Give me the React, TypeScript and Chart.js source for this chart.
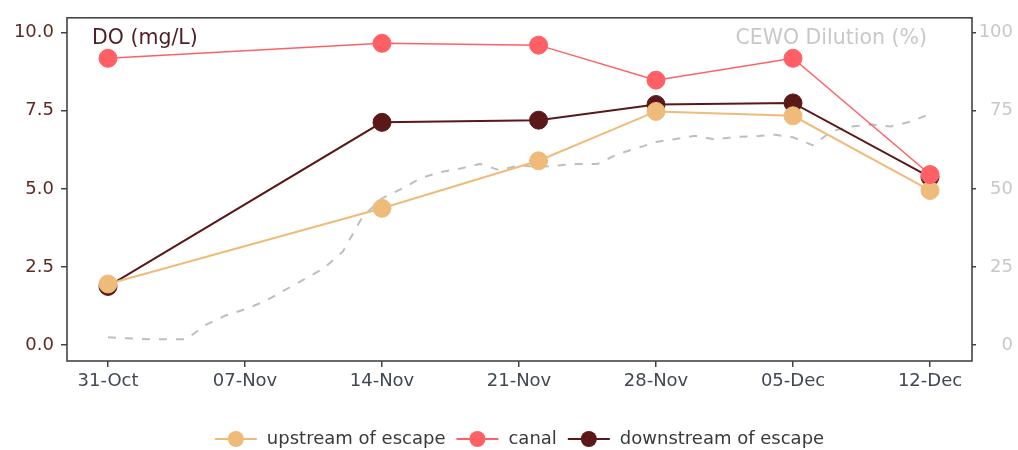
import React, { useEffect, useRef } from "react";
import { Chart, registerables } from "chart.js";

Chart.register(...registerables);

// x axis: days since 31-Oct
const dayTicks = [0, 7, 14, 21, 28, 35, 42];
const dayLabels = ["31-Oct", "07-Nov", "14-Nov", "21-Nov", "28-Nov", "05-Dec", "12-Dec"];

const sampleDays = [0, 14, 22, 28, 35, 42];
const upstream = [1.96, 4.38, 5.9, 7.48, 7.34, 4.95];
const canal = [9.18, 9.66, 9.6, 8.48, 9.18, 5.46];
const downstream = [1.88, 7.13, 7.2, 7.7, 7.75, 5.38];

const dilutionDays = [
  0, 1, 2, 3, 4, 5, 6, 7, 8, 9, 10, 11, 12, 13, 14, 15, 16, 17, 18, 19, 20, 21,
  22, 23, 24, 25, 26, 27, 28, 29, 30, 31, 32, 33, 34, 35, 36, 37, 38, 39, 40, 41, 42,
];
const dilution = [
  2.5, 2.2, 1.9, 1.9, 1.9, 6.5, 9.5, 11.5, 14, 17.5, 21, 24.5, 30, 41, 47, 50,
  53.5, 55.4, 56.5, 58, 56, 57.5, 57, 57.5, 58, 58, 61, 63, 65, 66, 67, 65.8,
  66.6, 66.8, 67.4, 66.5, 64, 68.5, 70, 70.6, 70, 71.5, 74,
];

const doTicks = [0, 2.5, 5, 7.5, 10];
const dilutionTicks = [0, 25, 50, 75, 100];

const seriesNames = ["upstream of escape", "canal", "downstream of escape"];
const seriesColors = ["#EFBB7A", "#FF6066", "#5A1918"];
const dilutionColor = "#BEBEBE";

const FONT = '"DejaVu Sans", sans-serif';

const framePlugin = {
  id: "frame",
  beforeDatasetsDraw(chart: any) {
    const { ctx, chartArea: a } = chart;
    ctx.save();
    ctx.strokeStyle = "#444";
    ctx.lineWidth = 1.6;
    ctx.strokeRect(a.left, a.top, a.right - a.left, a.bottom - a.top);
    ctx.restore();
  },
};

const textPlugin = {
  id: "annot",
  afterDraw(chart: any) {
    const { ctx, chartArea: a } = chart;
    ctx.save();
    ctx.font = `20.5px ${FONT}`;
    ctx.textBaseline = "alphabetic";
    ctx.fillStyle = "#4e1f26";
    ctx.textAlign = "left";
    ctx.fillText("DO (mg/L)", a.left + 25, a.top + 26);
    ctx.fillStyle = "#C8C8C8";
    ctx.textAlign = "right";
    ctx.fillText("CEWO Dilution (%)", a.right - 45, a.top + 26);
    ctx.restore();
  },
};

const legendPlugin = {
  id: "customLegend",
  afterDraw(chart: any) {
    const { ctx, chartArea: a } = chart;
    ctx.save();
    ctx.font = `18px ${FONT}`;
    const markerW = 42;
    const gapText = 10;
    const gapItem = 11;
    const widths = seriesNames.map((n) => ctx.measureText(n).width);
    const total =
      widths.reduce((s, w) => s + markerW + gapText + w, 0) + gapItem * (seriesNames.length - 1);
    let x = (a.left + a.right) / 2 - total / 2;
    const y = 439;
    seriesNames.forEach((name, i) => {
      ctx.strokeStyle = seriesColors[i];
      ctx.lineWidth = 2;
      ctx.beginPath();
      ctx.moveTo(x, y);
      ctx.lineTo(x + markerW, y);
      ctx.stroke();
      ctx.fillStyle = seriesColors[i];
      ctx.beginPath();
      ctx.arc(x + markerW / 2, y, 8, 0, Math.PI * 2);
      ctx.fill();
      x += markerW + gapText;
      ctx.fillStyle = "#3a3a3a";
      ctx.textAlign = "left";
      ctx.textBaseline = "middle";
      ctx.fillText(name, x, y);
      x += widths[i] + gapItem;
    });
    ctx.restore();
  },
};

export default function App() {
  const ref = useRef<HTMLCanvasElement | null>(null);

  useEffect(() => {
    if (!ref.current) return;
    const mk = (vals: number[]) => sampleDays.map((d, i) => ({ x: d, y: vals[i] }));
    const chart = new Chart(ref.current, {
      type: "line",
      data: {
        datasets: [
          {
            label: seriesNames[0],
            data: mk(upstream),
            borderColor: seriesColors[0],
            backgroundColor: seriesColors[0],
            borderWidth: 2,
            pointRadius: 9,
            pointBorderWidth: 1,
            pointBorderColor: seriesColors[0],
            yAxisID: "y",
            order: 2,
          },
          {
            label: seriesNames[1],
            data: mk(canal),
            borderColor: seriesColors[1],
            backgroundColor: seriesColors[1],
            borderWidth: 1.5,
            pointRadius: 9,
            pointBorderWidth: 1,
            pointBorderColor: seriesColors[1],
            yAxisID: "y",
            order: 1,
          },
          {
            label: seriesNames[2],
            data: mk(downstream),
            borderColor: seriesColors[2],
            backgroundColor: seriesColors[2],
            borderWidth: 2,
            pointRadius: 9,
            pointBorderWidth: 1,
            pointBorderColor: seriesColors[2],
            yAxisID: "y",
            order: 3,
          },
          {
            label: "CEWO Dilution (%)",
            data: dilutionDays.map((d, i) => ({ x: d, y: dilution[i] })),
            borderColor: dilutionColor,
            borderWidth: 2,
            borderDash: [8, 9],
            pointRadius: 0,
            yAxisID: "y1",
            order: 4,
          },
        ],
      },
      options: {
        animation: false,
        responsive: false,
        layout: { padding: { top: 14, right: 5, bottom: 0, left: 0 } },
        plugins: {
          legend: { display: false },
          tooltip: { enabled: false },
        },
        scales: {
          x: {
            type: "linear",
            min: -2.095,
            max: 44.146,
            afterBuildTicks: (s: any) => {
              s.ticks = dayTicks.map((v) => ({ value: v }));
            },
            afterFit: (s: any) => {
              s.height = 89;
            },
            ticks: {
              callback: (_v: any, i: number) => dayLabels[i],
              font: { family: FONT, size: 18 },
              color: "#404854",
              padding: 4,
              maxRotation: 0,
              autoSkip: false,
            },
            grid: { drawOnChartArea: false, drawTicks: true, tickLength: 6, color: "#444", lineWidth: 1.5 },
            border: { display: false },
          },
          y: {
            type: "linear",
            position: "left",
            min: -0.506,
            max: 10.475,
            afterBuildTicks: (s: any) => {
              s.ticks = doTicks.map((v) => ({ value: v }));
            },
            afterFit: (s: any) => {
              s.width = 67;
            },
            ticks: {
              callback: (v: any) => Number(v).toFixed(1),
              font: { family: FONT, size: 18 },
              color: "#5e2a22",
              padding: 7,
            },
            grid: { drawOnChartArea: false, drawTicks: true, tickLength: 6, color: "#444", lineWidth: 1.5 },
            border: { display: false },
          },
          y1: {
            type: "linear",
            position: "right",
            min: -5.06,
            max: 104.75,
            afterBuildTicks: (s: any) => {
              s.ticks = dilutionTicks.map((v) => ({ value: v }));
            },
            afterFit: (s: any) => {
              s.width = 41;
            },
            ticks: {
              callback: (v: any) => String(v),
              font: { family: FONT, size: 18 },
              color: "#C8C8C8",
              crossAlign: "far",
            },
            grid: { drawOnChartArea: false, drawTicks: true, tickLength: 4, color: "#444", lineWidth: 1.5 },
            border: { display: false },
          },
        },
      },
      plugins: [framePlugin, textPlugin, legendPlugin],
    } as any);
    return () => chart.destroy();
  }, []);

  return (
    <div style={{ position: "absolute", left: 0, top: 0, width: 1018, height: 450, background: "#fff" }}>
      <canvas ref={ref} width={1018} height={450} style={{ display: "block" }} />
    </div>
  );
}
